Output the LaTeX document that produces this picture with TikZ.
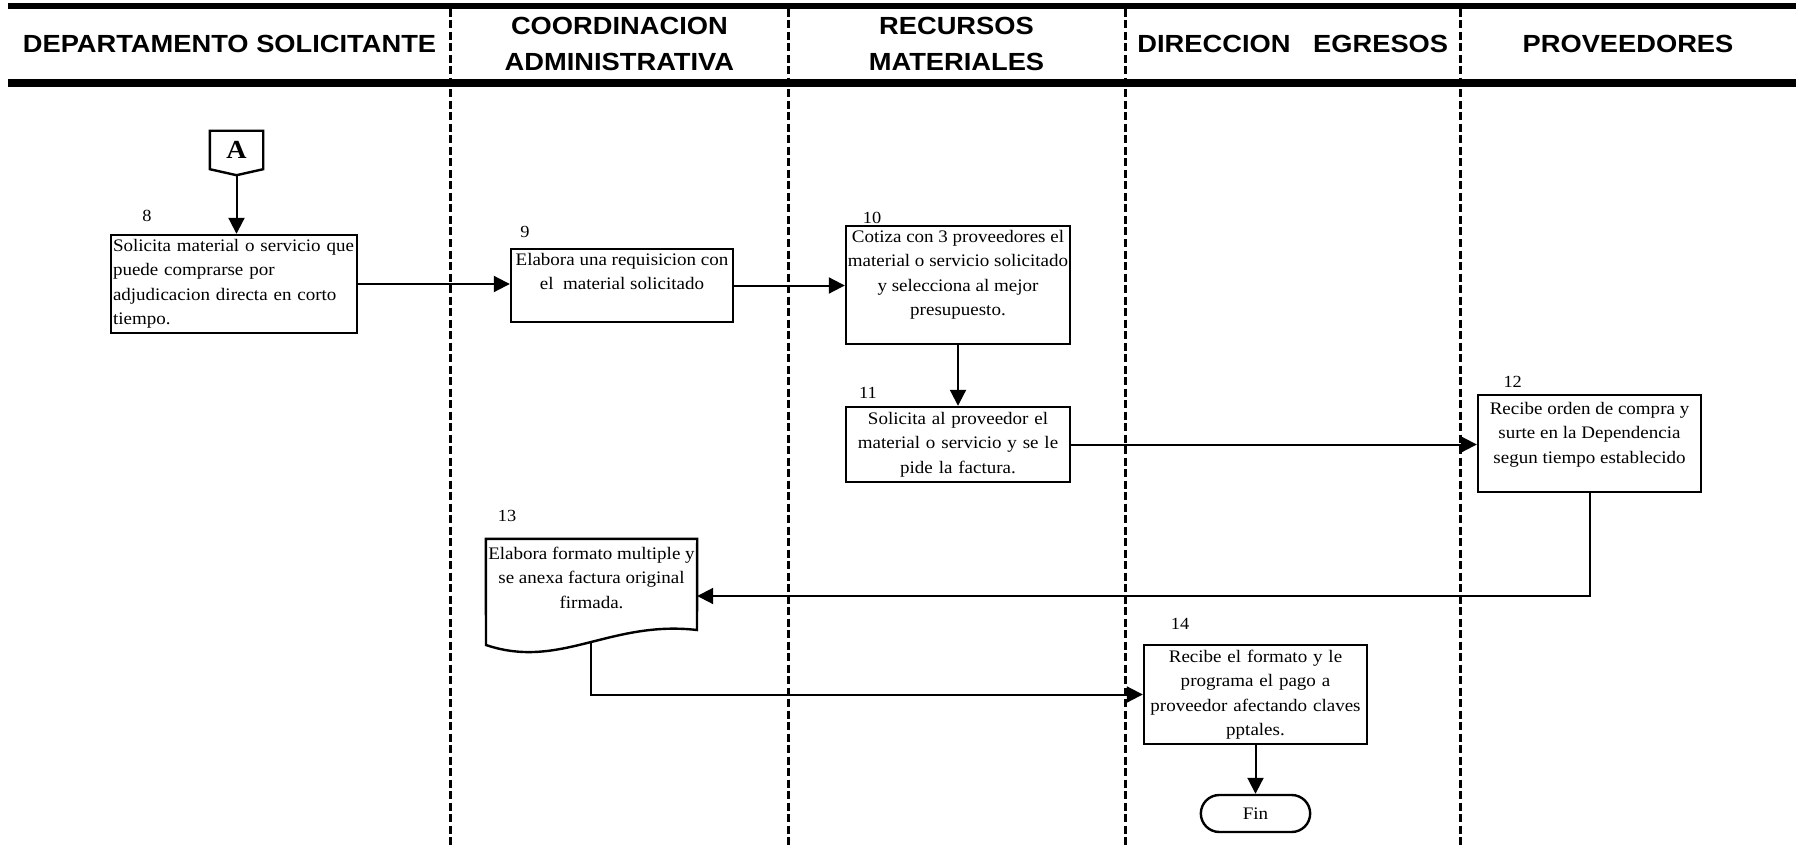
\documentclass[tikz,border=0pt]{standalone}
\usepackage{fontspec}
\setmainfont{Liberation Serif}[FakeStretch=1.08]
\newfontfamily\cabecera{Liberation Sans}[FakeStretch=1.1]
\usetikzlibrary{arrows.meta, shapes.misc, calc}

\newcommand{\arriba}[3]{\parbox[c][#1][t]{#2}{\centering #3}}

\tikzset{
  texto/.style={font=\fontsize{17.6}{24.5}\selectfont},
  caja/.style={texto, draw, line width=2.4pt, inner sep=2pt},
  flecha/.style={line width=2pt, -{Triangle[length=16pt, width=16pt]}},
  carril/.style={line width=3pt, dash pattern=on 8pt off 3.5pt},
  titulo/.style={font=\cabecera\bfseries\fontsize{24.8}{36.6}\selectfont, align=center},
  num/.style={font=\fontsize{17}{20}\selectfont, inner sep=0pt}
}

\begin{document}
\begin{tikzpicture}[x=1pt, y=-1pt]
            \useasboundingbox (0,0) rectangle (1796,845);
            \fill (8,2.7) rectangle (1796,9.3);
            \fill (8,79) rectangle (1796,86.7);
            \draw[carril] (450.7,9) -- (450.7,845) (788,9) -- (788,845)
                          (1125,9) -- (1125,845) (1460.7,9) -- (1460.7,845);
            \node[titulo] (depto) at (229.5,44) {DEPARTAMENTO SOLICITANTE};
            \node[titulo] (coord) at (619.4,44) {COORDINACION\\ADMINISTRATIVA};
            \node[titulo] (recmat) at (956.5,44) {RECURSOS\\MATERIALES};
            \node[titulo] (egresos) at (1292.8,44) {DIRECCION\ \ \ EGRESOS};
            \node[titulo] (prov) at (1628,44) {PROVEEDORES};
            \node[minimum width=53pt, minimum height=38pt, inner sep=0pt,
                  font=\bfseries\fontsize{26}{30}\selectfont] (conA) at (236.5,150) {A};
            \draw[line width=2.4pt] (conA.north west) -- (conA.north east) -- (conA.south east)
                  -- ($(conA.south)+(0,6)$) coordinate (conAp) -- (conA.south west) -- cycle;
            \node[caja, minimum width=246pt, minimum height=98pt, text width=242pt, align=left] (b8) at (234,284)
                  {Solicita material o servicio que\\puede comprarse por\\adjudicacion directa en corto\\tiempo.};
            \node[caja, minimum width=222pt, minimum height=73pt, inner xsep=0pt, inner ysep=4pt] (b9) at (622,285.5)
                  {\arriba{65pt}{222pt}{Elabora una requisicion con\\el\ \ material solicitado}};
            \node[caja, minimum width=224pt, minimum height=118pt, inner xsep=0pt, inner ysep=4pt] (b10) at (958,285)
                  {\arriba{110pt}{224pt}{Cotiza con 3 proveedores el\\material o servicio solicitado\\y selecciona al mejor\\presupuesto.}};
            \node[caja, minimum width=224pt, minimum height=75pt, text width=220pt, align=center] (b11) at (958,444.5)
                  {Solicita al proveedor el\\material o servicio y se le\\pide la factura.};
            \node[caja, minimum width=223pt, minimum height=97pt, inner xsep=0pt, inner ysep=7pt] (b12) at (1589.5,443.5)
                  {\arriba{83pt}{223pt}{Recibe orden de compra y\\surte en la Dependencia\\segun tiempo establecido}};
            \node[texto, minimum width=211pt, minimum height=114pt, inner xsep=0pt, inner ysep=8pt] (b13) at (591.5,596)
                  {\arriba{98pt}{211pt}{Elabora formato multiple y\\se anexa factura original\\firmada.}};
            \draw[line width=2.4pt] (b13.north west) -- (b13.north east) -- (697,630)
                  .. controls (610,620) and (560,670) .. (486,645) coordinate[pos=0.48] (b13s) -- cycle;
            \node[caja, minimum width=223pt, minimum height=99pt, text width=219pt, align=center] (b14) at (1255.5,694.5)
                  {Recibe el formato y le\\programa el pago a\\proveedor afectando claves\\pptales.};
            \node[texto, draw, rounded rectangle, line width=2.4pt, minimum width=116pt, minimum height=37pt] (fin) at (1255.5,813.5) {Fin};
            \node[num] (n8) at (147,216) {8};
            \node[num] (n9) at (525,232) {9};
            \node[num] (n10) at (872,218) {10};
            \node[num] (n11) at (868,393) {11};
            \node[num] (n12) at (1512.7,381.7) {12};
            \node[num] (n13) at (507,516) {13};
            \node[num] (n14) at (1180,624) {14};
            \draw[flecha] (conAp) -- (conAp |- b8.north);
            \draw[flecha] (b8.east) -- (b8.east -| b9.west);
            \draw[flecha] (b9.east) -- (b9.east -| b10.west);
            \draw[flecha] (b10.south) -- (b11.north);
            \draw[flecha] (b11.east) -- (b11.east -| b12.west);
            \draw[flecha] (b12.south) |- (b13.east);
            \draw[flecha] (b13s) |- (b14.west);
            \draw[flecha] (b14.south) -- (fin.north);
        \end{tikzpicture}
\end{document}
